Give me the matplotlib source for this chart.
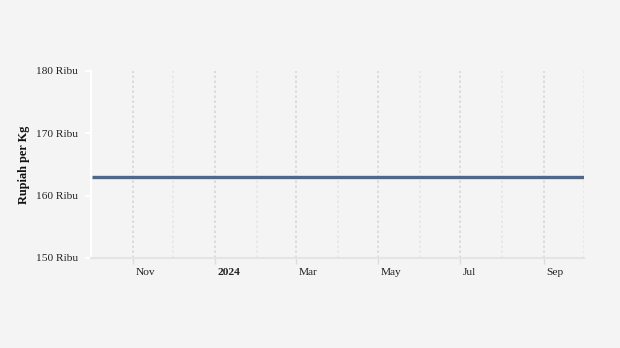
import matplotlib
matplotlib.use("Agg")
import matplotlib.pyplot as plt
import matplotlib.transforms as mtrans
import datetime as dt

dates = ["2023-10-02", "2024-10-01"]
values = [163000, 163000]
y_ticks = [150000, 160000, 170000, 180000]
x_major = ["2023-11-01", "2024-01-01", "2024-03-01", "2024-05-01", "2024-07-01", "2024-09-01"]
x_major_labels = ["Nov", "2024", "Mar", "May", "Jul", "Sep"]
x_minor = ["2023-12-01", "2024-02-01", "2024-04-01", "2024-06-01", "2024-08-01", "2024-10-01"]

plt.rcParams['font.family'] = ['Liberation Serif', 'DejaVu Serif']

bg = "#f4f4f4"
fig = plt.figure(figsize=(6.2, 3.48), dpi=100, facecolor=bg)
ax = fig.add_axes([91/620, 1-258/348, (584-91)/620, (258-71)/348])
ax.set_facecolor(bg)

d = [dt.datetime.fromisoformat(s) for s in dates]
ax.plot(d, values, color="#4a6890", lw=2.4, solid_capstyle="butt", zorder=3)

ax.set_xlim(dt.datetime(2023, 10, 1), dt.datetime(2024, 10, 1))
ax.set_ylim(150000, 180000)

ax.set_yticks(y_ticks)
ax.set_yticklabels([f"{v/1000:.0f} Ribu" for v in y_ticks], fontsize=8.2, color="#222222")
ax.tick_params(axis='y', length=4, color="white", width=1.5, pad=5.5)

mj = [dt.datetime.fromisoformat(s) for s in x_major]
mn = [dt.datetime.fromisoformat(s) for s in x_minor]
ax.set_xticks(mj)
ax.set_xticklabels(x_major_labels, fontsize=8.2, color="#222222")
ax.set_xticks(mn, minor=True)
ax.tick_params(axis='x', which='major', length=4, color="#dddddd", width=1, pad=3)
ax.tick_params(axis='x', which='minor', length=0)
offset = mtrans.ScaledTranslation(3/100, 0, fig.dpi_scale_trans)
for lbl in ax.get_xticklabels():
    lbl.set_horizontalalignment('left')
    lbl.set_transform(lbl.get_transform() + offset)
    if lbl.get_text() == "2024":
        lbl.set_fontweight('bold')

for x in mj:
    ax.axvline(x, color="#d8d8d8", lw=1.2, ls=(0, (1.5, 1.5)), zorder=1)
for x in mn:
    ax.axvline(x, color="#e6e6e6", lw=1.2, ls=(0, (1.5, 1.5)), zorder=1)

for s in ['top', 'right']:
    ax.spines[s].set_visible(False)
ax.spines['left'].set_color("white")
ax.spines['left'].set_linewidth(1.5)
ax.spines['bottom'].set_color("#e4e4e4")
ax.spines['bottom'].set_linewidth(1.5)

ax.set_ylabel("Rupiah per Kg", fontsize=8.8, fontweight='bold', color="#111111", labelpad=4)

fig.savefig("out.png", dpi=100, facecolor=bg)
